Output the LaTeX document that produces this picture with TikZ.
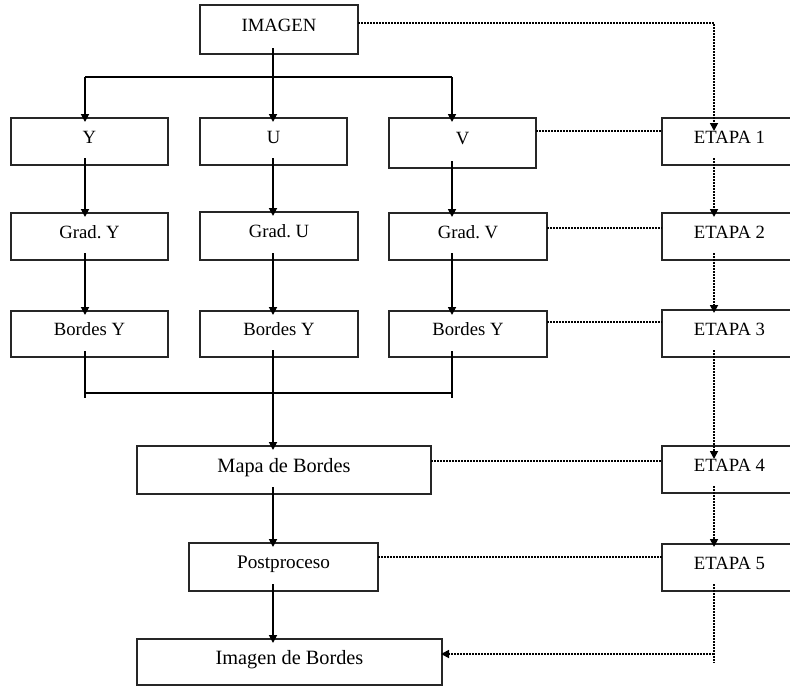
\documentclass[tikz,border=0pt]{standalone}
\usepackage{fontspec}
\setmainfont{Liberation Serif}
\usetikzlibrary{arrows.meta,calc}
\begin{document}
\frenchspacing
\begin{tikzpicture}[x=1pt,y=-1pt,
  box/.style={draw=black!85,line width=1.1pt,rectangle,inner sep=0pt,outer sep=0pt,
    font=\fontsize{18.7}{22}\selectfont,text height=12.3pt,text depth=9pt},
  big/.style={font=\fontsize{20.3}{24}\selectfont,text height=13.3pt,text depth=9pt},
  mid/.style={font=\fontsize{19.2}{23}\selectfont,text height=12.7pt,text depth=9pt},
  tip/.style={-{Triangle[width=8pt,length=8pt]}},
  arr/.style={line width=1.7pt,tip,shorten <=-7pt,shorten >=-4pt},
  ln/.style={line width=1.1pt},
  dotl/.style={line width=1.7pt,dash pattern=on 1.6pt off 1.4pt},
  dotarr/.style={dotl,tip}]
\useasboundingbox (0,0) rectangle (790,686);
\clip (0,0) rectangle (790,686);

% columns and junctions
\coordinate (c1) at (85,0);
\coordinate (c2) at (273,0);
\coordinate (c3) at (452,0);
\coordinate (c4) at (714,0);
\coordinate (sl) at (85,77);
\coordinate (sm) at (273,77);
\coordinate (sr) at (452,77);
\coordinate (bl) at (85,393);
\coordinate (br) at (452,393);
\coordinate (e5end) at (714,663);
\coordinate (tap) at (714,654);

% boxes
\node[box,minimum width=158pt,minimum height=49pt] (IMAGEN) at (279,29.5) {IMAGEN};
\node[box,minimum width=157pt,minimum height=47pt] (Y) at (89.5,141.5) {Y};
\node[box,minimum width=147pt,minimum height=47pt] (U) at (273.5,141.5) {U};
\node[box,minimum width=147pt,minimum height=50pt] (V) at (462.5,143) {V};
\node[box,minimum width=135pt,minimum height=47pt] (E1) at (729.5,141.5) {ETAPA 1};

\node[box,minimum width=157pt,minimum height=47pt] (GY) at (89.5,236.5) {Grad. Y};
\node[box,minimum width=158pt,minimum height=48pt] (GU) at (279,236) {Grad. U};
\node[box,minimum width=158pt,minimum height=47pt] (GV) at (468,236.5) {Grad. V};
\node[box,minimum width=135pt,minimum height=47pt] (E2) at (729.5,236.5) {ETAPA 2};

\node[box,minimum width=157pt,minimum height=46pt] (BY1) at (89.5,334) {Bordes Y};
\node[box,minimum width=158pt,minimum height=46pt] (BY2) at (279,334) {Bordes Y};
\node[box,minimum width=158pt,minimum height=46pt] (BY3) at (468,334) {Bordes Y};
\node[box,minimum width=135pt,minimum height=47pt] (E3) at (729.5,333.5) {ETAPA 3};

\node[box,big,minimum width=294pt,minimum height=48pt] (M) at (284,470) {Mapa de Bordes};
\node[box,minimum width=135pt,minimum height=47pt] (E4) at (729.5,469.5) {ETAPA 4};

\node[box,mid,minimum width=189pt,minimum height=48pt] (P) at (283.5,567) {Postproceso};
\node[box,minimum width=135pt,minimum height=47pt] (E5) at (729.5,567.5) {ETAPA 5};

\node[box,big,minimum width=305pt,minimum height=46pt] (IB) at (289.5,662) {Imagen de Bordes};

% split from IMAGEN
\draw[line width=1.7pt] ([yshift=6pt]IMAGEN.south -| c2) -- (sm);
\draw[ln] (sl) -- (sr);
\draw[arr,shorten <=0pt] (sl) -- (Y.north -| c1);
\draw[arr,shorten <=0pt] (sm) -- (U.north -| c2);
\draw[arr,shorten <=0pt] (sr) -- (V.north -| c3);

% columns
\draw[arr] (Y.south -| c1) -- (GY.north -| c1);
\draw[arr] (U.south -| c2) -- (GU.north -| c2);
\draw[arr] (V.south -| c3) -- (GV.north -| c3);
\draw[arr] (GY.south -| c1) -- (BY1.north -| c1);
\draw[arr] (GU.south -| c2) -- (BY2.north -| c2);
\draw[arr] (GV.south -| c3) -- (BY3.north -| c3);

% merge bracket
\draw[ln] ([yshift=6pt]BY1.south -| c1) -- ([yshift=-5pt]bl);
\draw[ln] ([yshift=6pt]BY3.south -| c3) -- ([yshift=-5pt]br);
\draw[ln] (bl) -- (br);
\draw[arr] (BY2.south -| c2) -- (M.north -| c2);
\draw[arr] (M.south -| c2) -- (P.north -| c2);
\draw[arr] (P.south -| c2) -- (IB.north -| c2);

% dotted stage links
\draw[dotarr,shorten >=-13pt] ([yshift=6.5pt]IMAGEN.east) -| (E1.north -| c4);
\path ([yshift=12pt]V.east) coordinate (d1);
\path ([yshift=8.5pt]GV.east) coordinate (d2);
\path ([yshift=12pt]BY3.east) coordinate (d3);
\path ([yshift=9pt]M.east) coordinate (d4);
\path ([yshift=10pt]P.east) coordinate (d5);
\draw[dotl] (d1) -- (d1 -| E1.west);
\draw[dotl] (d2) -- (d2 -| E2.west);
\draw[dotl] (d3) -- (d3 -| E3.west);
\draw[dotl] (d4) -- (d4 -| E4.west);
\draw[dotl] (d5) -- (d5 -| E5.west);

\draw[dotarr,shorten <=-7pt,shorten >=-4pt] (E1.south -| c4) -- (E2.north -| c4);
\draw[dotarr,shorten <=-7pt,shorten >=-3pt] (E2.south -| c4) -- (E3.north -| c4);
\draw[dotarr,shorten <=-7pt,shorten >=-13pt] (E3.south -| c4) -- (E4.north -| c4);
\draw[dotarr,shorten <=-7pt,shorten >=-3pt] (E4.south -| c4) -- (E5.north -| c4);
\draw[dotl,shorten <=-7pt] (E5.south -| c4) -- (e5end);
\draw[dotarr,shorten >=-1pt] (tap) -- (tap -| IB.east);
\end{tikzpicture}
\end{document}
